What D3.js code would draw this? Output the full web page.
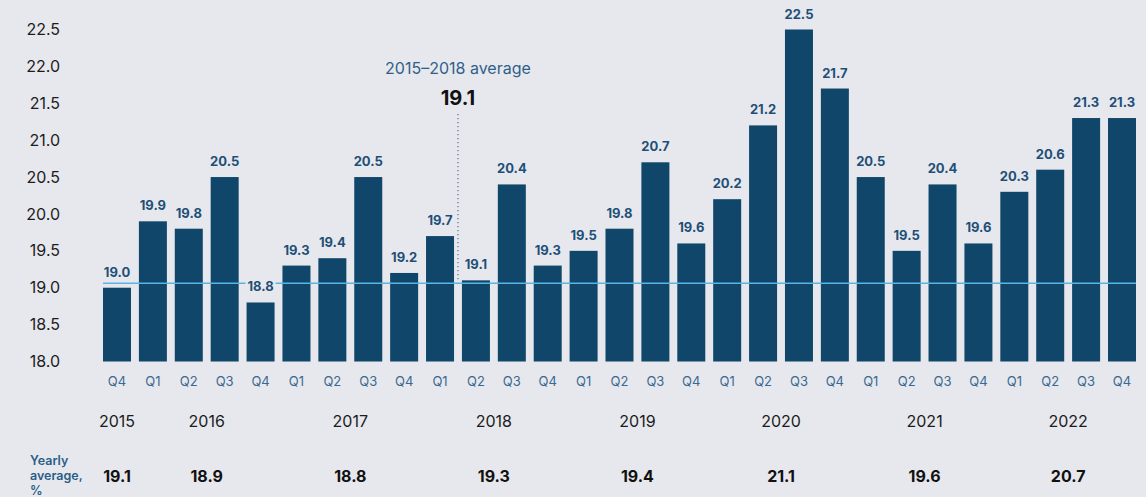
<!DOCTYPE html>
<html>
<head>
<meta charset="utf-8">
<script src="https://cdn.jsdelivr.net/npm/d3@7"></script>
<style>
  html, body { margin: 0; padding: 0; background: #e7e8ed; }
  svg { display: block; font-family: Inter, "Noto Sans", sans-serif; }
</style>
</head>
<body>
<svg id="chart" width="1146" height="497"></svg>
<script>
const quarters = ["Q4","Q1","Q2","Q3","Q4","Q1","Q2","Q3","Q4","Q1","Q2","Q3","Q4","Q1","Q2","Q3","Q4","Q1","Q2","Q3","Q4","Q1","Q2","Q3","Q4","Q1","Q2","Q3","Q4"];
const values = [19.0, 19.9,19.8,20.5,18.8, 19.3,19.4,20.5,19.2, 19.7,19.1,20.4,19.3, 19.5,19.8,20.7,19.6, 20.2,21.2,22.5,21.7, 20.5,19.5,20.4,19.6, 20.3,20.6,21.3,21.3];
const years = ["2015","2016","2017","2018","2019","2020","2021","2022"];
// first and last bar index under each year label
const yearSpans = [[0,0],[1,4],[5,8],[9,12],[13,16],[17,20],[21,24],[25,28]];
const yearlyAverages = ["19.1","18.9","18.8","19.3","19.4","21.1","19.6","20.7"];
const yTicks = [18.0,18.5,19.0,19.5,20.0,20.5,21.0,21.5,22.0,22.5];
const avgValue = 19.06;
const avgLabel = "19.1";
const avgTitle = "2015–2018 average";
const avgMarkerBeforeIndex = 10;

const svg = d3.select("#chart");
const ids = values.map((d,i)=>i);
const x = d3.scaleBand().domain(ids).range([103, 1136]).paddingInner(0.22).paddingOuter(0);
const y = d3.scaleLinear().domain([18, 22.5]).range([361.5, 29.5]);

const barColor = "#0f4669";
const labelColor = "#1e4f77";
const bg = "#e7e8ed";

// y-axis labels
svg.append("g").selectAll("text").data(yTicks).join("text")
  .attr("x", 60).attr("y", d => y(d)).attr("dy", "0.35em")
  .attr("text-anchor", "end").attr("font-size", 16).attr("fill", "#1c1c1c")
  .text(d => d.toFixed(1));

// bars
svg.append("g").selectAll("rect").data(values).join("rect")
  .attr("x", (d,i) => x(i)).attr("width", x.bandwidth())
  .attr("y", d => y(d)).attr("height", d => y(18) - y(d))
  .attr("fill", barColor);

// average line
svg.append("line")
  .attr("x1", x(0)).attr("x2", x(values.length-1) + x.bandwidth())
  .attr("y1", y(avgValue)).attr("y2", y(avgValue))
  .attr("stroke", "#5ab4e4").attr("stroke-width", 1.5);

// value labels with background
const lg = svg.append("g").selectAll("g").data(values).join("g")
  .attr("transform", (d,i) => `translate(${x(i) + x.bandwidth()/2},${y(d) - 11})`);
lg.append("rect").attr("x", -15).attr("y", -11).attr("width", 30).attr("height", 13).attr("fill", bg);
lg.append("text").attr("text-anchor", "middle").attr("font-size", 13).attr("font-weight", 700)
  .attr("fill", labelColor).text(d => d.toFixed(1));

// average annotation
const ax = x(avgMarkerBeforeIndex) - (x.step() - x.bandwidth())/2;
svg.append("line").attr("x1", ax).attr("x2", ax).attr("y1", 114).attr("y2", y(avgValue) - 2)
  .attr("stroke", "#2d5a80").attr("stroke-width", 1).attr("stroke-dasharray", "1.2,2.8");
svg.append("text").attr("x", ax).attr("y", 74).attr("text-anchor", "middle")
  .attr("font-size", 16).attr("fill", "#2f6089").text(avgTitle);
svg.append("text").attr("x", ax).attr("y", 105).attr("text-anchor", "middle")
  .attr("font-size", 20).attr("font-weight", 700).attr("fill", "#111").text(avgLabel);

// quarter labels
svg.append("g").selectAll("text").data(quarters).join("text")
  .attr("x", (d,i) => x(i) + x.bandwidth()/2).attr("y", 386)
  .attr("text-anchor", "middle").attr("font-size", 13).attr("fill", "#3b6890")
  .text(d => d);

const yearX = (s) => (x(s[0]) + x(s[1]) + x.bandwidth())/2;
// year labels
svg.append("g").selectAll("text").data(years).join("text")
  .attr("x", (d,i) => yearX(yearSpans[i])).attr("y", 427)
  .attr("text-anchor", "middle").attr("font-size", 16).attr("fill", "#1c1c1c")
  .text(d => d);

// yearly averages
svg.append("g").selectAll("text").data(yearlyAverages).join("text")
  .attr("x", (d,i) => yearX(yearSpans[i])).attr("y", 482)
  .attr("text-anchor", "middle").attr("font-size", 16).attr("font-weight", 700).attr("fill", "#111")
  .text(d => d);

const ya = svg.append("text").attr("x", 30).attr("font-size", 12.5).attr("font-weight", 600).attr("fill", "#2b5e87");
["Yearly","average,","%"].forEach((t,i) => ya.append("tspan").attr("x", 30).attr("y", 465 + i*15).text(t));
</script>
</body>
</html>
